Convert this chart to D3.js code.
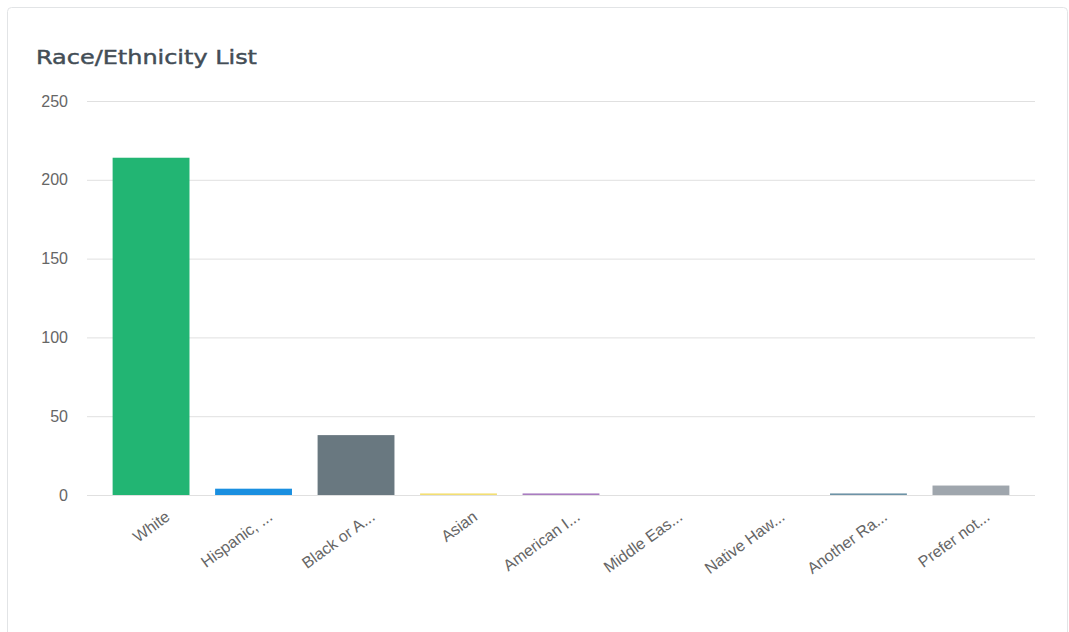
<!DOCTYPE html>
<html>
<head>
<meta charset="utf-8">
<script src="https://cdn.jsdelivr.net/npm/d3@7"></script>
<style>
  html, body { margin: 0; padding: 0; background: #ffffff; }
  svg { display: block; }
</style>
</head>
<body>
<svg id="chart" width="1069" height="632"></svg>
<script>
// Race/Ethnicity counts
const categories = ["White", "Hispanic, ...", "Black or A...", "Asian", "American I...",
                    "Middle Eas...", "Native Haw...", "Another Ra...", "Prefer not..."];
const counts = [214, 4, 38, 1, 1, 0, 0, 1, 6];
const barColors = ["#22b573", "#1a8fe0", "#697880", "#f3df73", "#a97cc0",
                   "#e07a5f", "#4aa3a2", "#6d93a6", "#9fa6ad"];
const yTicks = [0, 50, 100, 150, 200, 250];

(function draw() {
  const svg = d3.select("#chart");

  // card
  svg.append("rect")
    .attr("x", 7.5).attr("y", 7.5)
    .attr("width", 1060).attr("height", 640)
    .attr("rx", 4)
    .attr("fill", "#ffffff")
    .attr("stroke", "#e2e4e6");

  svg.append("text")
    .attr("x", 36).attr("y", 64)
    .attr("font-family", "'DejaVu Sans', 'Open Sans', sans-serif")
    .attr("font-size", 20)
    .attr("fill", "#434d56")
    .attr("stroke", "#434d56")
    .attr("stroke-width", 0.45)
    .attr("textLength", 221)
    .attr("lengthAdjust", "spacingAndGlyphs")
    .text("Race/Ethnicity List");

  const plotLeft = 87, plotRight = 1035, plotTop = 101, plotBottom = 495;

  const x = d3.scaleBand()
    .domain(categories)
    .range([plotLeft, plotRight])
    .paddingInner(0.25)
    .paddingOuter(0.25);

  const y = d3.scaleLinear()
    .domain([0, 250])
    .range([plotBottom, plotTop]);

  // gridlines + y labels
  const yAxis = d3.axisLeft(y)
    .tickValues(yTicks)
    .tickSize(-(plotRight - plotLeft))
    .tickPadding(19)
    .tickFormat(d3.format("d"));

  const gy = svg.append("g")
    .attr("transform", `translate(${plotLeft},0)`)
    .call(yAxis);
  gy.select(".domain").remove();
  gy.selectAll(".tick line").attr("stroke", "#e0e0e0").attr("stroke-width", 1);
  gy.selectAll(".tick text")
    .attr("font-family", "Arial, 'Liberation Sans', sans-serif")
    .attr("font-size", 16)
    .attr("fill", "#666666");

  // bars
  svg.append("g").selectAll("rect")
    .data(categories)
    .join("rect")
    .attr("x", d => x(d))
    .attr("width", x.bandwidth())
    .attr("y", (d, i) => y(counts[i]))
    .attr("height", (d, i) => plotBottom - y(counts[i]))
    .attr("fill", (d, i) => barColors[i]);

  // rotated category labels
  const xAxis = d3.axisBottom(x).tickSize(0).tickPadding(0);
  const gx = svg.append("g")
    .attr("transform", `translate(0,${plotBottom})`)
    .call(xAxis);
  gx.select(".domain").remove();
  gx.selectAll(".tick text")
    .attr("font-family", "Arial, 'Liberation Sans', sans-serif")
    .attr("font-size", 16)
    .attr("fill", "#666666")
    .attr("text-anchor", "end")
    .attr("dy", null)
    .attr("y", 0)
    .attr("transform", "translate(20,24) rotate(-36)");
})();
</script>
</body>
</html>
